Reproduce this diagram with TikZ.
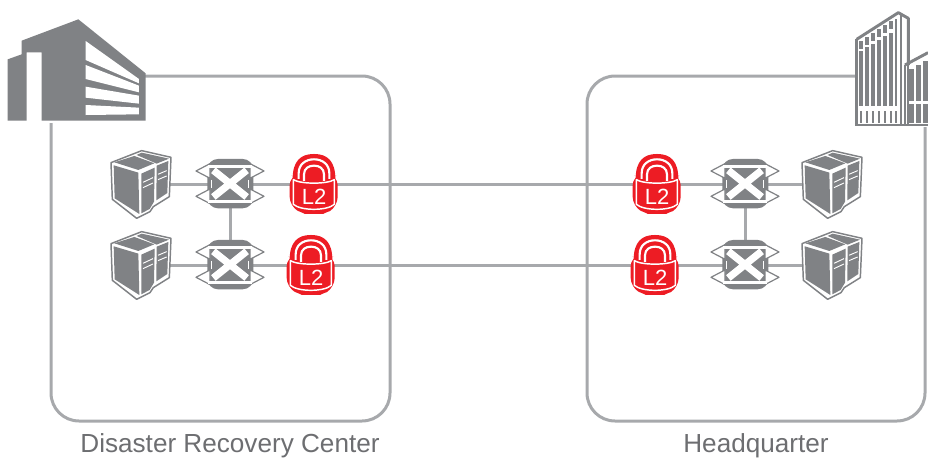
\documentclass[tikz,border=0pt]{standalone}
\usepackage{fontspec}
\setmainfont{Liberation Sans}
\definecolor{icongray}{HTML}{808285}
\definecolor{linegray}{HTML}{A7A9AC}
\definecolor{lockred}{HTML}{ED1C24}
\definecolor{labelgray}{HTML}{6D6E71}
\tikzset{
  x=0.75pt,y=-0.75pt,
  sitebox/.style={draw=linegray,line width=2.25pt,rounded corners=21pt},
  link/.style={draw=linegray,line width=2.25pt},
  anchorbox/.style={inner sep=0pt,minimum size=12pt},
  sitelabel/.style={text=labelgray,font=\fontsize{19.6}{22}\selectfont,inner sep=0pt,anchor=base},
  locktext/.style={text=white,font=\fontsize{16.5}{18}\selectfont,inner sep=0pt},
  serverpic/.pic={
    \begin{scope}[scale=1/3,shift={(-108,-118)}]
      \filldraw[fill=white,draw=icongray,line width=1.1pt,line join=round]
        (18,53)--(110,17)--(198,37)--(193,155)--(145,185)--(135,200)--(95,220)--(22,163)--cycle;
      \fill[icongray] (26,61)--(100,83)--(103,207)--(29,160)--cycle;
      \fill[icongray] (28,52)--(88,33)--(148,55)--(100,75)--cycle;
      \fill[icongray] (95,30)--(110,23)--(192,41)--(155,56)--cycle;
      \fill[icongray] (109,86)--(149,68)--(147,170)--(134,192)--(109,205)--cycle;
      \fill[icongray] (155,62)--(190,48)--(187,144)--(154,166)--cycle;
      \draw[white,line width=0.7pt] (114,112)--(144,98) (114,128)--(144,114) (159,88)--(185,77) (159,104)--(185,93);
    \end{scope}
  },
  switchpic/.pic={
    \begin{scope}[scale=1/3,shift={(-114,-88)}]
      \fill[icongray,rounded corners=8pt] (46,12) rectangle (184,160);
      \foreach \ya/\yb/\yc in {48/26/70,124/102/146}{
        \filldraw[fill=white,draw=icongray,line width=0.9pt,line join=round]
          (12,\ya)--(54,\yb)--(54,\yc)--cycle;
        \filldraw[fill=white,draw=icongray,line width=0.9pt,line join=round]
          (216,\ya)--(174,\yb)--(174,\yc)--cycle;
      }
      \fill[white] (48,29) rectangle (180,38);
      \fill[white] (48,134) rectangle (180,143);
      \draw[white,line width=5.4pt] (64,46)--(164,126) (164,46)--(64,126);
      \fill[white] (56,74) rectangle (60,98);
      \fill[white] (168,74) rectangle (172,98);
    \end{scope}
  },
  lockpic/.pic={
    \begin{scope}[scale=1/3,shift={(-100,-108)}]
      \fill[lockred] (36,92) .. controls (36,38) and (60,17) .. (100,17)
         .. controls (140,17) and (164,38) .. (164,92) -- cycle;
      \fill[lockred,rounded corners=7pt] (27,82) -- (60,80) -- (140,80) -- (171,82) -- (171,174)
         .. controls (150,187) and (125,197) .. (100,197)
         .. controls (75,197) and (50,187) .. (27,174) -- cycle;
      \draw[white,line width=1.6pt] (54,92) -- (54,75) .. controls (54,48) and (75,33) .. (100,33)
         .. controls (125,33) and (146,48) .. (146,75) -- (146,92);
      \draw[white,line width=1.6pt] (70,98) -- (70,78) .. controls (70,60) and (85,52) .. (100,52)
         .. controls (115,52) and (130,60) .. (130,78) -- (130,98);
      \draw[white,line width=1.1pt,line join=round] (38,94) .. controls (60,108) and (140,108) .. (161,94)
         -- (161,168) .. controls (140,188) and (60,188) .. (38,168) -- cycle;
    \end{scope}
    \node[locktext] at (0,13) {L2};
  }
}
\begin{document}
\begin{tikzpicture}
\useasboundingbox (0,0) rectangle (928,457);
% site boxes
\draw[sitebox] (51,76) rectangle (390,421);
\draw[sitebox] (587,76) rectangle (925,421);

% device anchors
\node[anchorbox] (srvLA) at (141,184.3) {};
\node[anchorbox] (srvLB) at (141,265.3) {};
\node[anchorbox] (swLA)  at (230,184.3) {};
\node[anchorbox] (swLB)  at (230,265.3) {};
\node[anchorbox] (lkLA)  at (314,184.3) {};
\node[anchorbox] (lkLB)  at (311,265.3) {};
\node[anchorbox] (lkRA)  at (657,184.3) {};
\node[anchorbox] (lkRB)  at (655,265.3) {};
\node[anchorbox] (swRA)  at (745,184.3) {};
\node[anchorbox] (swRB)  at (745,265.3) {};
\node[anchorbox] (srvRA) at (832,184.3) {};
\node[anchorbox] (srvRB) at (832,265.3) {};

% connectors
\draw[link] (srvLA) -- (swLA);
\draw[link] (swLA) -- (lkLA);
\draw[link] (lkLA) -- (lkRA);
\draw[link] (lkRA) -- (swRA);
\draw[link] (swRA) -- (srvRA);
\draw[link] (srvLB) -- (swLB);
\draw[link] (swLB) -- (lkLB);
\draw[link] (lkLB) -- (lkRB);
\draw[link] (lkRB) -- (swRB);
\draw[link] (swRB) -- (srvRB);
\draw[link] (swLA) -- (swLB);
\draw[link] (swRA) -- (swRB);

% icons
\foreach \p in {(141,184.3),(141,265.3),(832,184.3),(832,265.3)} \pic at \p {serverpic};
\foreach \p in {(230,184.3),(230,265.3),(745,184.3),(745,265.3)} \pic at \p {switchpic};
\foreach \p in {(314,184.3),(311,265.3),(657,184.3),(655,265.3)} \pic at \p {lockpic};

% left building
\begin{scope}[shift={(0,10)},scale=1/3]
  \fill[white] (0,0) rectangle (436,340);
  \fill[icongray] (23,148)--(65,133)--(65,92)--(235,28)--(437,190)--(437,332)--(125,332)--(125,127)--(80,127)--(80,332)--(23,332)--cycle;
  \fill[white] (257,93)--(417,207)--(417,220)--(257,150)--cycle;
  \fill[white] (257,165)--(417,227)--(417,247)--(257,207)--cycle;
  \fill[white] (257,230)--(417,257)--(417,281)--(257,263)--cycle;
  \fill[white] (257,285)--(417,293)--(417,313)--(257,315)--cycle;
\end{scope}

% right building
\begin{scope}[shift={(840,0)},scale=1/3]
  \fill[white] (45,30) rectangle (264,380);
  \draw[icongray,line width=2.2pt,line join=round] (50,118)--(175,38)--(205,55)--(205,195);
  \draw[icongray,line width=2.2pt] (50,118)--(50,375)--(264,375);
  \draw[icongray,line width=1.5pt] (184,45)--(184,375);
  \draw[icongray,line width=1.5pt] (205,195)--(205,375);
  \draw[icongray,line width=2.2pt] (195,195)--(264,158);
  \draw[icongray,line width=1.5pt] (195,195)--(195,375);
  \foreach \xa/\ta/\tb in {58/122/153,76/110/142,94/99/131,112/87/119,130/76/109,148/64/98}{
    \fill[icongray] (\xa,\ta) rectangle ++(12,24);
    \fill[icongray] (\xa,\tb) rectangle (\xa+12,318);
    \fill[icongray] (\xa+2,333) rectangle (\xa+9,370);
  }
  \fill[icongray] (166,56) rectangle (172,318);
  \fill[icongray] (166,333) rectangle (172,370);
  \foreach \xa/\tb in {208/208,228/195,249/182}{
    \fill[icongray] (\xa,\tb) rectangle (\xa+14,302);
    \fill[icongray] (\xa,313) rectangle (\xa+14,370);
  }
\end{scope}

% labels
\node[sitelabel] (lblL) at (230,452) {Disaster Recovery Center};
\node[sitelabel] (lblR) at (756,452) {Headquarter};
\end{tikzpicture}
\end{document}
